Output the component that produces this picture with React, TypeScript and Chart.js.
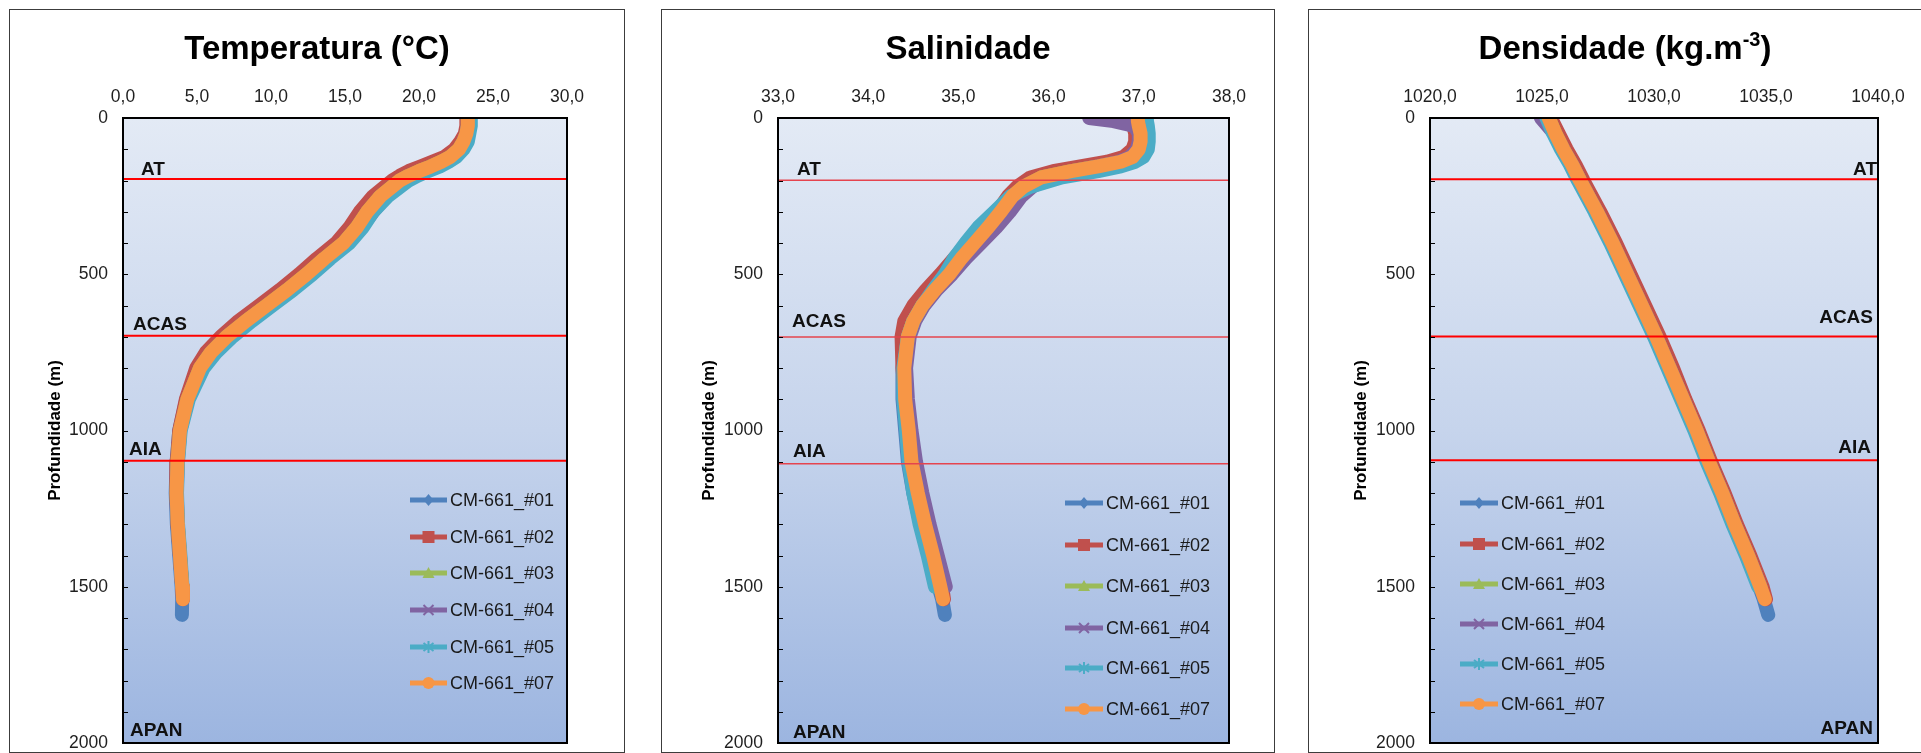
import React, { useEffect, useRef } from "react";
import { Chart, registerables } from "chart.js";

Chart.register(...registerables);

// ---------------- DATA ----------------
const SERIES_NAMES = ["CM-661_#01", "CM-661_#02", "CM-661_#03", "CM-661_#04", "CM-661_#05", "CM-661_#07"];
const SERIES_COLORS = ["#4F81BD", "#C0504D", "#9BBB59", "#8064A2", "#4BACC6", "#F79646"];
const SERIES_MARKERS = ["diamond", "square", "triangle", "cross", "star", "circle"];

const DEPTH_TICK_STEP = 500;
const WATER_MASSES = ["AT", "ACAS", "AIA", "APAN"];

// Temperatura (°C)
const TEMP_DEPTH = [0, 25, 50, 75, 100, 125, 140, 155, 170, 185, 200, 250, 300, 350, 400, 450, 500, 550, 600, 650, 700, 750, 800, 900, 1000, 1100, 1200, 1300, 1400, 1500, 1540, 1590];
const TEMP_01 = [23.4, 23.4, 23.3, 23.1, 22.8, 22.2, 21.6, 20.9, 20.1, 19.4, 18.8, 17.5, 16.6, 15.9, 15.0, 13.7, 12.5, 11.2, 9.8, 8.4, 7.0, 5.9, 5.1, 4.28, 3.8, 3.62, 3.56, 3.64, 3.8, 3.96, 4.0, 3.98];
const TEMP_02 = [23.2, 23.2, 23.1, 22.8, 22.4, 21.7, 20.9, 20.1, 19.3, 18.7, 18.2, 16.9, 16.0, 15.3, 14.4, 13.1, 11.9, 10.6, 9.2, 7.8, 6.6, 5.6, 4.95, 4.25, 3.8, 3.64, 3.6, 3.68, 3.84, 4.0, 4.05, null];
const TEMP_03 = [23.3, 23.3, 23.2, 23.0, 22.7, 22.1, 21.5, 20.8, 20.0, 19.3, 18.7, 17.4, 16.5, 15.8, 14.9, 13.6, 12.4, 11.1, 9.7, 8.3, 7.0, 5.95, 5.2, 4.35, 3.85, 3.68, 3.62, 3.7, 3.85, 4.0, null, null];
const TEMP_04 = [23.3, 23.3, 23.2, 23.0, 22.8, 22.3, 21.7, 21.0, 20.2, 19.5, 19.0, 17.8, 16.9, 16.1, 15.1, 13.8, 12.5, 11.2, 9.8, 8.4, 7.1, 6.0, 5.25, 4.38, 3.87, 3.7, 3.63, 3.7, 3.85, 4.0, null, null];
const TEMP_05 = [23.5, 23.5, 23.4, 23.3, 23.0, 22.5, 22.0, 21.4, 20.6, 19.9, 19.3, 17.9, 16.9, 16.2, 15.3, 14.0, 12.8, 11.5, 10.1, 8.7, 7.4, 6.3, 5.45, 4.45, 3.9, 3.72, 3.65, 3.72, 3.88, 4.02, null, null];
const TEMP_07 = [23.3, 23.3, 23.2, 23.0, 22.7, 22.1, 21.5, 20.8, 20.0, 19.3, 18.7, 17.4, 16.5, 15.8, 14.9, 13.6, 12.4, 11.1, 9.7, 8.3, 7.0, 5.95, 5.2, 4.35, 3.85, 3.68, 3.62, 3.7, 3.85, 4.0, 4.05, null];
const TEMP_LINES = [195, 697, 1097];

// Salinidade
const SAL_DEPTH = [0, 10, 25, 50, 75, 100, 125, 140, 155, 170, 190, 220, 250, 300, 350, 400, 450, 500, 550, 600, 650, 700, 800, 900, 1000, 1100, 1200, 1300, 1400, 1500, 1540, 1590];
const SAL_01 = [37.04, 37.04, 37.04, 37.06, 37.06, 37.03, 36.96, 36.85, 36.6, 36.3, 35.95, 35.74, 35.6, 35.46, 35.3, 35.15, 35.0, 34.87, 34.72, 34.58, 34.48, 34.42, 34.38, 34.38, 34.41, 34.44, 34.5, 34.58, 34.68, 34.78, 34.82, 34.85];
const SAL_02 = [36.94, 36.94, 36.94, 36.96, 36.96, 36.93, 36.83, 36.65, 36.35, 36.05, 35.8, 35.65, 35.55, 35.43, 35.27, 35.1, 34.95, 34.8, 34.64, 34.5, 34.4, 34.37, 34.38, 34.41, 34.45, 34.49, 34.56, 34.64, 34.73, 34.82, 34.84, null];
const SAL_03 = [36.99, 36.99, 37.0, 37.02, 37.02, 37.0, 36.93, 36.8, 36.55, 36.25, 35.92, 35.72, 35.6, 35.47, 35.33, 35.18, 35.03, 34.9, 34.74, 34.6, 34.5, 34.44, 34.4, 34.41, 34.45, 34.48, 34.55, 34.63, 34.72, 34.8, null, null];
const SAL_04 = [36.45, 36.72, 36.95, 37.0, 37.0, 36.98, 36.9, 36.78, 36.55, 36.28, 36.0, 35.82, 35.7, 35.57, 35.42, 35.25, 35.08, 34.93, 34.76, 34.62, 34.52, 34.46, 34.42, 34.44, 34.48, 34.53, 34.6, 34.68, 34.77, 34.86, null, null];
const SAL_05 = [37.09, 37.09, 37.1, 37.11, 37.11, 37.1, 37.05, 36.96, 36.8, 36.55, 36.15, 35.8, 35.58, 35.4, 35.22, 35.08, 34.95, 34.85, 34.72, 34.6, 34.5, 34.44, 34.39, 34.39, 34.42, 34.45, 34.5, 34.57, 34.66, 34.74, null, null];
const SAL_07 = [36.99, 36.99, 37.0, 37.02, 37.02, 37.0, 36.93, 36.8, 36.55, 36.25, 35.92, 35.72, 35.6, 35.47, 35.33, 35.18, 35.03, 34.9, 34.74, 34.6, 34.5, 34.44, 34.4, 34.41, 34.45, 34.48, 34.55, 34.63, 34.72, 34.8, 34.83, null];
const SAL_LINES = [199, 701, 1106];

// Densidade (kg.m-3)
const DENS_DEPTH = [0, 50, 100, 150, 200, 300, 400, 500, 600, 700, 800, 900, 1000, 1100, 1200, 1300, 1400, 1500, 1540, 1590];
const DENS_01 = [1025.25, 1025.55, 1025.9, 1026.3, 1026.65, 1027.4, 1028.1, 1028.75, 1029.4, 1030.05, 1030.65, 1031.25, 1031.85, 1032.4, 1033.0, 1033.55, 1034.15, 1034.7, 1034.9, 1035.1];
const DENS_02 = [1025.4, 1025.75, 1026.1, 1026.5, 1026.85, 1027.6, 1028.3, 1028.95, 1029.6, 1030.25, 1030.85, 1031.4, 1032.0, 1032.55, 1033.15, 1033.7, 1034.3, 1034.85, 1035.0, null];
const DENS_03 = [1025.3, 1025.6, 1025.95, 1026.35, 1026.7, 1027.45, 1028.15, 1028.8, 1029.45, 1030.1, 1030.7, 1031.3, 1031.9, 1032.45, 1033.05, 1033.6, 1034.2, 1034.75, null, null];
const DENS_04 = [1024.95, 1025.55, 1025.95, 1026.35, 1026.7, 1027.45, 1028.15, 1028.8, 1029.45, 1030.1, 1030.7, 1031.3, 1031.9, 1032.45, 1033.05, 1033.6, 1034.2, 1034.75, null, null];
const DENS_05 = [1025.2, 1025.5, 1025.85, 1026.25, 1026.6, 1027.35, 1028.05, 1028.7, 1029.35, 1030.0, 1030.6, 1031.2, 1031.8, 1032.35, 1032.95, 1033.5, 1034.1, 1034.65, null, null];
const DENS_07 = [1025.3, 1025.6, 1025.95, 1026.35, 1026.7, 1027.45, 1028.15, 1028.8, 1029.45, 1030.1, 1030.7, 1031.3, 1031.9, 1032.45, 1033.05, 1033.6, 1034.2, 1034.75, 1034.95, null];
const DENS_LINES = [196, 699, 1095];

// ---------------- LAYOUT / STYLE ----------------
const FONT = "'Liberation Sans', Arial, Helvetica, sans-serif";
const CANVAS_H = 753;
const PLOT_TOP = 118;
const PLOT_BOTTOM = 743;
const Y_AXIS_W = 60;
const X_AXIS_H = 40;

type Panel = {
  canvasLeft: number;
  canvasWidth: number;
  plotLeft: number;
  plotRight: number;
  frame: { left: number; top: number; width: number; height: number };
  titleParts: { text: string; sup?: boolean }[];
  titleX: number;
  xMin: number;
  xMax: number;
  xStep: number;
  depths: number[];
  series: (number | null)[][];
  lines: number[];
  lineColor: string;
  lineWidth: number;
  zoneLabels: { x: number; y: number; align: CanvasTextAlign }[];
  legend: { x0: number; x1: number; tx: number; ys: number[] };
  yTitleX: number;
};

const PANELS: Panel[] = [
  {
    canvasLeft: 8,
    canvasWidth: 618,
    plotLeft: 115,
    plotRight: 559,
    frame: { left: 1, top: 9, width: 615, height: 743 },
    titleParts: [{ text: "Temperatura (°C)" }],
    titleX: 309,
    xMin: 0,
    xMax: 30,
    xStep: 5,
    depths: TEMP_DEPTH,
    series: [TEMP_01, TEMP_02, TEMP_03, TEMP_04, TEMP_05, TEMP_07],
    lines: TEMP_LINES,
    lineColor: "#FF0000",
    lineWidth: 2,
    zoneLabels: [
      { x: 133, y: 170, align: "left" },
      { x: 125, y: 325, align: "left" },
      { x: 121, y: 450, align: "left" },
      { x: 122, y: 731, align: "left" },
    ],
    legend: { x0: 402, x1: 439, tx: 442, ys: [500, 537, 573, 610, 647, 683] },
    yTitleX: 47,
  },
  {
    canvasLeft: 660,
    canvasWidth: 616,
    plotLeft: 118,
    plotRight: 569,
    frame: { left: 1, top: 9, width: 613, height: 743 },
    titleParts: [{ text: "Salinidade" }],
    titleX: 308,
    xMin: 33,
    xMax: 38,
    xStep: 1,
    depths: SAL_DEPTH,
    series: [SAL_01, SAL_02, SAL_03, SAL_04, SAL_05, SAL_07],
    lines: SAL_LINES,
    lineColor: "#E5444E",
    lineWidth: 1.5,
    zoneLabels: [
      { x: 137, y: 170, align: "left" },
      { x: 132, y: 322, align: "left" },
      { x: 133, y: 452, align: "left" },
      { x: 133, y: 733, align: "left" },
    ],
    legend: { x0: 405, x1: 443, tx: 446, ys: [503, 545, 586, 628, 668, 709] },
    yTitleX: 49,
  },
  {
    canvasLeft: 1307,
    canvasWidth: 614,
    plotLeft: 123,
    plotRight: 571,
    frame: { left: 1, top: 9, width: 700, height: 743 },
    titleParts: [{ text: "Densidade (kg.m" }, { text: "-3", sup: true }, { text: ")" }],
    titleX: 318,
    xMin: 1020,
    xMax: 1040,
    xStep: 5,
    depths: DENS_DEPTH,
    series: [DENS_01, DENS_02, DENS_03, DENS_04, DENS_05, DENS_07],
    lines: DENS_LINES,
    lineColor: "#FF0000",
    lineWidth: 2,
    zoneLabels: [
      { x: 570, y: 170, align: "right" },
      { x: 566, y: 318, align: "right" },
      { x: 564, y: 448, align: "right" },
      { x: 566, y: 729, align: "right" },
    ],
    legend: { x0: 153, x1: 191, tx: 194, ys: [503, 544, 584, 624, 664, 704] },
    yTitleX: 54,
  },
];

// ---------------- DRAWING HELPERS ----------------
function drawMarker(ctx: CanvasRenderingContext2D, shape: string, x: number, y: number, color: string) {
  ctx.save();
  ctx.fillStyle = color;
  ctx.strokeStyle = color;
  ctx.lineWidth = 2;
  ctx.beginPath();
  if (shape === "diamond") {
    ctx.moveTo(x, y - 6);
    ctx.lineTo(x + 5, y);
    ctx.lineTo(x, y + 6);
    ctx.lineTo(x - 5, y);
    ctx.closePath();
    ctx.fill();
  } else if (shape === "square") {
    ctx.fillRect(x - 6, y - 6, 12, 12);
  } else if (shape === "triangle") {
    ctx.moveTo(x, y - 6);
    ctx.lineTo(x + 6, y + 5);
    ctx.lineTo(x - 6, y + 5);
    ctx.closePath();
    ctx.fill();
  } else if (shape === "cross") {
    ctx.moveTo(x - 5, y - 5);
    ctx.lineTo(x + 5, y + 5);
    ctx.moveTo(x + 5, y - 5);
    ctx.lineTo(x - 5, y + 5);
    ctx.stroke();
  } else if (shape === "star") {
    ctx.moveTo(x, y - 6);
    ctx.lineTo(x, y + 6);
    ctx.moveTo(x - 5, y - 4);
    ctx.lineTo(x + 5, y + 4);
    ctx.moveTo(x + 5, y - 4);
    ctx.lineTo(x - 5, y + 4);
    ctx.stroke();
  } else {
    ctx.arc(x, y, 6, 0, Math.PI * 2);
    ctx.fill();
  }
  ctx.restore();
}

const decorPlugin = {
  id: "panelDecor",
  beforeDraw(chart: any) {
    const p: Panel = chart.options.plugins.panelDecor.panel;
    const { ctx, chartArea: a } = chart;
    ctx.save();
    ctx.fillStyle = "#FFFFFF";
    ctx.fillRect(0, 0, chart.width, chart.height);
    ctx.strokeStyle = "#3C3C3C";
    ctx.lineWidth = 1;
    ctx.strokeRect(p.frame.left + 0.5, p.frame.top + 0.5, p.frame.width, p.frame.height);

    const g = ctx.createLinearGradient(0, a.top, 0, a.bottom);
    g.addColorStop(0, "#E3EAF5");
    g.addColorStop(0.5, "#C6D4EC");
    g.addColorStop(1, "#9CB5E0");
    ctx.fillStyle = g;
    ctx.fillRect(a.left, a.top, a.right - a.left, a.bottom - a.top);

    // title
    const mainFont = `bold 33px ${FONT}`;
    const supFont = `bold 20px ${FONT}`;
    let total = 0;
    for (const part of p.titleParts) {
      ctx.font = part.sup ? supFont : mainFont;
      total += ctx.measureText(part.text).width;
    }
    let x = p.titleX - total / 2;
    ctx.fillStyle = "#000000";
    ctx.textBaseline = "alphabetic";
    ctx.textAlign = "left";
    for (const part of p.titleParts) {
      ctx.font = part.sup ? supFont : mainFont;
      ctx.fillText(part.text, x, part.sup ? 46 : 59);
      x += ctx.measureText(part.text).width;
    }

    // y axis title
    ctx.save();
    ctx.translate(p.yTitleX, (a.top + a.bottom) / 2);
    ctx.rotate(-Math.PI / 2);
    ctx.font = `bold 17px ${FONT}`;
    ctx.textAlign = "center";
    ctx.textBaseline = "middle";
    ctx.fillText("Profundidade (m)", 0, 0);
    ctx.restore();
    ctx.restore();
  },
  afterDatasetsDraw(chart: any) {
    const p: Panel = chart.options.plugins.panelDecor.panel;
    const { ctx, chartArea: a, scales } = chart;
    const ys = scales.y;
    ctx.save();
    // red water-mass boundaries
    ctx.strokeStyle = p.lineColor;
    ctx.lineWidth = p.lineWidth;
    for (const d of p.lines) {
      const yy = ys.getPixelForValue(d);
      ctx.beginPath();
      ctx.moveTo(a.left, yy);
      ctx.lineTo(a.right, yy);
      ctx.stroke();
    }
    // water mass labels
    ctx.font = `bold 19px ${FONT}`;
    ctx.fillStyle = "#111111";
    ctx.textBaseline = "middle";
    WATER_MASSES.forEach((name, i) => {
      const z = p.zoneLabels[i];
      ctx.textAlign = z.align;
      ctx.fillText(name, z.x, z.y);
    });
    // minor ticks every 100 m, inside
    ctx.strokeStyle = "#000000";
    ctx.lineWidth = 1;
    for (let d = 100; d < 2000; d += 100) {
      const yy = Math.round(ys.getPixelForValue(d)) + 0.5;
      ctx.beginPath();
      ctx.moveTo(a.left, yy);
      ctx.lineTo(a.left + 5, yy);
      ctx.stroke();
    }
    // plot border
    ctx.lineWidth = 2;
    ctx.strokeStyle = "#000000";
    ctx.strokeRect(a.left, a.top, a.right - a.left, a.bottom - a.top);
    // legend
    ctx.font = `18px ${FONT}`;
    ctx.textAlign = "left";
    ctx.textBaseline = "middle";
    SERIES_NAMES.forEach((name, i) => {
      const y = p.legend.ys[i];
      ctx.strokeStyle = SERIES_COLORS[i];
      ctx.lineWidth = 5;
      ctx.beginPath();
      ctx.moveTo(p.legend.x0, y);
      ctx.lineTo(p.legend.x1, y);
      ctx.stroke();
      drawMarker(ctx, SERIES_MARKERS[i], (p.legend.x0 + p.legend.x1) / 2, y, SERIES_COLORS[i]);
      ctx.fillStyle = "#1A1A1A";
      ctx.fillText(name, p.legend.tx, y + 1);
    });
    ctx.restore();
  },
};

function buildConfig(p: Panel): any {
  const datasets = p.series.map((vals, i) => ({
    label: SERIES_NAMES[i],
    data: p.depths
      .map((d, k) => (vals[k] == null ? null : { x: vals[k], y: d }))
      .filter((pt) => pt !== null),
    borderColor: SERIES_COLORS[i],
    backgroundColor: SERIES_COLORS[i],
    borderWidth: 14,
    borderJoinStyle: "round",
    borderCapStyle: "round",
    pointRadius: 0,
    showLine: true,
    tension: 0,
    order: SERIES_NAMES.length - 1 - i,
  }));
  const tickFont = { family: FONT, size: 17.5 };
  return {
    type: "scatter",
    data: { datasets },
    options: {
      animation: false,
      responsive: false,
      maintainAspectRatio: false,
      devicePixelRatio: 1,
      layout: {
        padding: {
          left: p.plotLeft - Y_AXIS_W,
          right: p.canvasWidth - p.plotRight,
          top: PLOT_TOP - X_AXIS_H,
          bottom: CANVAS_H - PLOT_BOTTOM,
        },
      },
      plugins: {
        legend: { display: false },
        tooltip: { enabled: false },
        title: { display: false },
        panelDecor: { panel: p },
      },
      scales: {
        x: {
          type: "linear",
          position: "top",
          min: p.xMin,
          max: p.xMax,
          grid: { display: false, drawTicks: false },
          border: { display: false },
          ticks: {
            stepSize: p.xStep,
            autoSkip: false,
            maxRotation: 0,
            padding: 10.5,
            color: "#1F1F1F",
            font: tickFont,
            callback: (v: any) => Number(v).toFixed(1).replace(".", ","),
          },
          afterFit: (s: any) => {
            s.height = X_AXIS_H;
            s.paddingLeft = 0;
            s.paddingRight = 0;
            s.paddingTop = 0;
            s.paddingBottom = 0;
          },
        },
        y: {
          type: "linear",
          reverse: true,
          min: 0,
          max: 2000,
          grid: { display: false, drawTicks: false },
          border: { display: false },
          ticks: {
            stepSize: DEPTH_TICK_STEP,
            autoSkip: false,
            padding: 15,
            color: "#1F1F1F",
            font: tickFont,
            callback: (v: any) => String(v),
          },
          afterFit: (s: any) => {
            s.width = Y_AXIS_W;
            s.paddingLeft = 0;
            s.paddingRight = 0;
            s.paddingTop = 0;
            s.paddingBottom = 0;
          },
        },
      },
    },
    plugins: [decorPlugin],
  };
}

function PanelChart({ panel }: { panel: Panel }) {
  const ref = useRef<HTMLCanvasElement | null>(null);
  useEffect(() => {
    if (!ref.current) return;
    const chart = new Chart(ref.current, buildConfig(panel));
    return () => chart.destroy();
  }, [panel]);
  return (
    <canvas
      ref={ref}
      width={panel.canvasWidth}
      height={CANVAS_H}
      style={{ position: "absolute", left: panel.canvasLeft, top: 0, width: panel.canvasWidth, height: CANVAS_H }}
    />
  );
}

export default function App() {
  return (
    <div style={{ position: "fixed", left: 0, top: 0, width: 1921, height: CANVAS_H, background: "#FFFFFF", overflow: "hidden" }}>
      {PANELS.map((p, i) => (
        <PanelChart key={i} panel={p} />
      ))}
    </div>
  );
}
